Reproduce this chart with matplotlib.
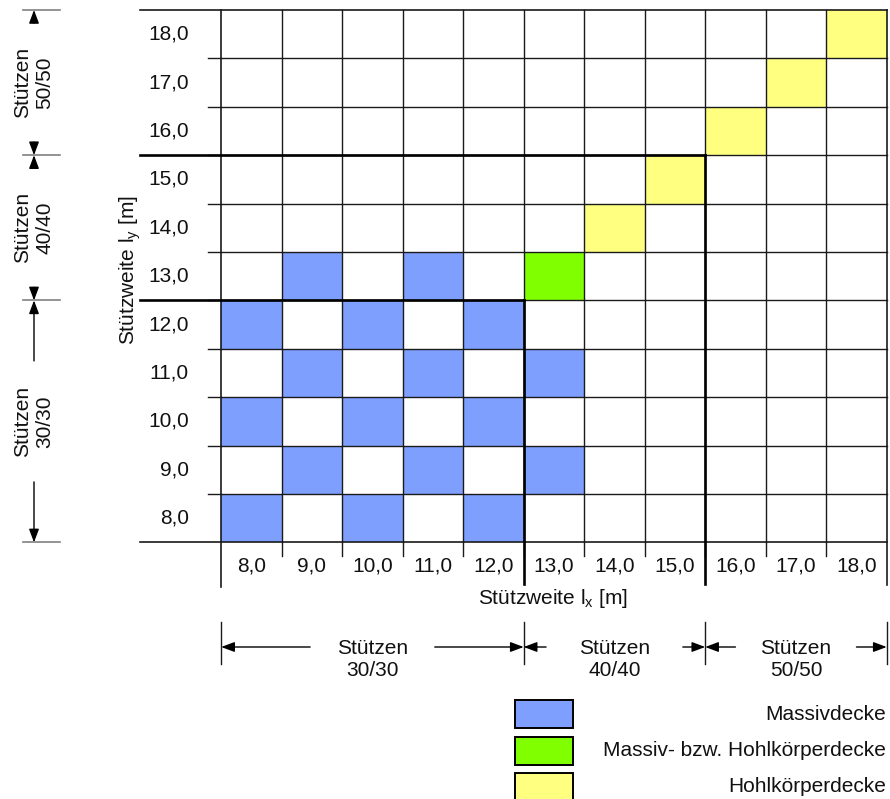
import matplotlib
matplotlib.use("Agg")
import matplotlib.pyplot as plt
from matplotlib.patches import Rectangle, FancyArrowPatch

plt.rcParams['font.family'] = ['Liberation Sans', 'DejaVu Sans']
plt.rcParams['mathtext.fontset'] = 'custom'
plt.rcParams['mathtext.rm'] = 'Liberation Sans'

# Spans (m) on both axes
spans = [8.0, 9.0, 10.0, 11.0, 12.0, 13.0, 14.0, 15.0, 16.0, 17.0, 18.0]
span_labels = ["8,0", "9,0", "10,0", "11,0", "12,0", "13,0", "14,0",
               "15,0", "16,0", "17,0", "18,0"]

# Slab type per (lx, ly) combination
massiv_lx = [9, 11, 8, 10, 12, 9, 11, 13, 8, 10, 12, 9, 11, 13, 8, 10, 12]
massiv_ly = [13, 13, 12, 12, 12, 11, 11, 11, 10, 10, 10, 9, 9, 9, 8, 8, 8]
mixed_lx = [13]
mixed_ly = [13]
hohl_lx = [14, 15, 16, 17, 18]
hohl_ly = [14, 15, 16, 17, 18]

# Column size zones (boundaries in span units)
zone_labels = ["Stützen\n30/30", "Stützen\n40/40", "Stützen\n50/50"]
zone_bounds = [7.5, 12.5, 15.5, 18.5]

legend_labels = ["Massivdecke", "Massiv- bzw. Hohlkörperdecke", "Hohlkörperdecke"]
colors = ["#7f9fff", "#80ff00", "#ffff80"]

W, H = 890, 799
fig = plt.figure(figsize=(W / 100, H / 100), dpi=100)
ax = fig.add_axes([0, 0, 1, 1])
ax.set_axis_off()

# pixel layout -> data units
X0P, CW = 221.2, 60.5
Y0P, RH = 542.4, 48.4
def px(p):
    return 7.5 + (p - X0P) / CW
def py(p):
    return 7.5 + (Y0P - p) / RH

ax.set_xlim(px(0), px(W))
ax.set_ylim(py(H), py(0))

lo, hi = spans[0] - 0.5, spans[-1] + 0.5
FS = 15
LC = "#1a1a1a"
TC = "#111111"

# cells
for xs, ys, c in [(massiv_lx, massiv_ly, colors[0]),
                  (mixed_lx, mixed_ly, colors[1]),
                  (hohl_lx, hohl_ly, colors[2])]:
    for x, y in zip(xs, ys):
        ax.add_patch(Rectangle((x - 0.5, y - 0.5), 1, 1, fc=c, ec="none", zorder=1))

# grid lines
for v in spans[:-1]:
    b = v + 0.5
    ax.plot([lo, hi], [b, b], color=LC, lw=1.0, zorder=2)
    ax.plot([b, b], [lo, hi], color=LC, lw=1.0, zorder=2)
    # short ticks into label bands
    ax.plot([px(208), lo], [b, b], color=LC, lw=1.0, zorder=2)
    ax.plot([b, b], [lo, py(556)], color=LC, lw=1.0, zorder=2)

# outer frame and label bands
ax.plot([px(140), hi], [hi, hi], color=LC, lw=1.2, zorder=3)
ax.plot([px(140), hi], [lo, lo], color=LC, lw=1.2, zorder=3)
ax.plot([hi, hi], [hi, py(585)], color=LC, lw=1.2, zorder=3)
ax.plot([lo, lo], [hi, py(587)], color=LC, lw=1.2, zorder=3)

# zone boundaries (thick)
for zb in zone_bounds[1:-1]:
    ax.plot([px(140), zb], [zb, zb], color="black", lw=1.9, zorder=4)
    ax.plot([zb, zb], [zb, py(584)], color="black", lw=1.9, zorder=4)

# tick labels
for v, lab in zip(spans, span_labels):
    ax.text(px(189), v, lab, ha="right", va="center", fontsize=FS, color=TC)
    ax.text(v, py(566), lab, ha="center", va="center", fontsize=FS, color=TC)

ax.text(px(553), py(598), r"Stützweite l$_\mathregular{x}$ [m]", ha="center",
        va="center", fontsize=FS, color=TC)
ax.text(px(130), py(270), r"Stützweite l$_\mathregular{y}$ [m]", ha="center",
        va="center", fontsize=FS, rotation=90, color=TC)

def arrow(p0, p1):
    ax.add_patch(FancyArrowPatch(p0, p1, arrowstyle="-|>,head_length=8,head_width=3",
                                 mutation_scale=1, color="black", lw=1.0,
                                 shrinkA=0, shrinkB=0, zorder=5))

# bottom dimension chain
yd = py(647)
for i, lab in enumerate(zone_labels):
    a, b = zone_bounds[i], zone_bounds[i + 1]
    m = (a + b) / 2
    ax.text(m, py(660), lab, ha="center", va="center", fontsize=FS, color=TC,
            multialignment="center", linespacing=1.2)
    gap = 1.03 if i == 0 else 1.13 if i == 1 else 1.0
    arrow((m - gap, yd), (a, yd))
    arrow((m + gap, yd), (b, yd))
for zb in zone_bounds:
    ax.plot([zb, zb], [py(622), py(664)], color=LC, lw=1.0)

# left dimension chain
xd = px(34)
for i, lab in enumerate(zone_labels):
    a, b = zone_bounds[i], zone_bounds[i + 1]
    m = (a + b) / 2
    ax.text(xd, m, lab, ha="center", va="center", fontsize=FS, rotation=90,
            multialignment="center", linespacing=1.2, color=TC)
    gap = 1.25 if i == 0 else 1.23
    arrow((xd, m - gap), (xd, a))
    arrow((xd, m + gap), (xd, b))
for zb in zone_bounds:
    ax.plot([px(23), px(60)], [zb, zb], color="#808080", lw=1.2)

# legend
box_tops = [700, 737, 773]
text_y = [714, 751, 787]
for c, lab, t, ty in zip(colors, legend_labels, box_tops, text_y):
    ax.add_patch(Rectangle((px(515), py(t + 28)), px(573) - px(515), py(t) - py(t + 28),
                           fc=c, ec="black", lw=1.4, clip_on=False, zorder=3))
    ax.text(px(886), py(ty), lab, ha="right", va="center", fontsize=FS, color=TC)

fig.savefig("out.png", dpi=100)
